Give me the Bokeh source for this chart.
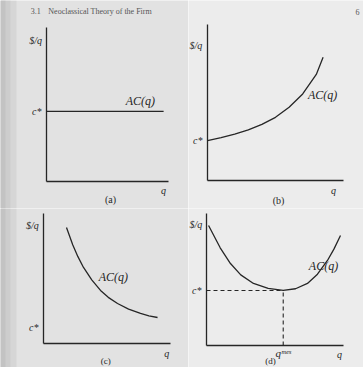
from bokeh.plotting import figure
from bokeh.layouts import column, row
from bokeh.models import Range1d, FixedTicker, Label, BoxAnnotation
from bokeh.embed import file_html
from bokeh.resources import INLINE

# ---------------- data ----------------
section = "3.1"
header = "Neoclassical Theory of the Firm"
page_no = "6"
panel_names = ["(a)", "(b)", "(c)", "(d)"]

# (a) constant average cost
c_star_a = 4.55
q_a = [0.0, 9.6]
ac_a = [4.55, 4.55]

# (b) rising average cost
c_star_b = 2.56
q_b = [0.0, 1.0, 2.0, 3.0, 4.0, 5.0, 6.0, 7.0, 8.0, 8.5]
ac_b = [2.56, 2.75, 2.98, 3.25, 3.6, 4.05, 4.7, 5.55, 6.8, 7.9]

# (c) falling average cost
c_star_c = 1.23
q_c = [1.81, 2.3, 2.7, 3.15, 3.8, 4.49, 5.1, 5.83, 6.7, 7.64, 8.3, 8.98]
ac_c = [8.92, 7.6, 6.7, 5.85, 4.9, 4.08, 3.55, 3.08, 2.65, 2.31, 2.13, 2.0]

# (d) U-shaped average cost
c_star_d = 4.17
q_mes = 5.6
q_d = [0.15, 1.0, 1.75, 2.5, 3.43, 4.5, 5.6, 6.5, 7.37, 8.1, 8.83, 9.3, 9.78]
ac_d = [9.09, 7.4, 6.21, 5.35, 4.7, 4.32, 4.17, 4.3, 4.7, 5.4, 6.44, 7.3, 8.33]

INK = "#262626"
SERIF = "Liberation Serif"


def make_panel(w, h, left, right, top, bottom, bg, c_star, xtick=None, xlabel=None):
    # the axes box (0..10 in both directions) sits at the given insets
    pxx = (w - left - right) / 10.0
    pxy = (h - top - bottom) / 10.0
    p = figure(width=w, height=h, output_backend="svg", toolbar_location=None,
               x_range=Range1d(-left / pxx, 10 + right / pxx),
               y_range=Range1d(-bottom / pxy, 10 + top / pxy),
               min_border=0, min_border_left=0, min_border_right=0,
               min_border_top=0, min_border_bottom=0,
               background_fill_color=bg, border_fill_color=bg,
               outline_line_color=None)
    p.xgrid.visible = False
    p.ygrid.visible = False
    for ax in (p.xaxis[0], p.yaxis[0]):
        ax.fixed_location = 0
        ax.bounds = (0, 10)
        ax.axis_line_color = INK
        ax.axis_line_width = 1.3
        ax.major_tick_in = 0
        ax.major_tick_out = 0
        ax.minor_tick_in = 0
        ax.minor_tick_out = 0
        ax.major_label_text_font = SERIF
        ax.major_label_text_font_style = "italic"
        ax.major_label_text_font_size = "10px"
        ax.major_label_text_color = INK
        ax.major_label_standoff = 5
    p.yaxis[0].ticker = FixedTicker(ticks=[c_star])
    p.yaxis[0].major_label_overrides = {c_star: "c*"}
    p.yaxis[0].major_label_orientation = "horizontal"
    if xtick is None:
        p.xaxis[0].ticker = FixedTicker(ticks=[])
    else:
        p.xaxis[0].ticker = FixedTicker(ticks=[xtick])
        p.xaxis[0].major_label_overrides = {xtick: xlabel}
        p.xaxis[0].major_label_standoff = 1
        p.xaxis[0].major_label_text_font_size = "11px"
    return p


def lab(p, x, y, text, size="10px", style="italic", align="center", color=INK):
    p.add_layout(Label(x=x, y=y, text=text, text_font=SERIF,
                       text_font_style=style, text_font_size=size,
                       text_color=color, text_align=align,
                       text_baseline="middle"))


def shade_left(p, px_per_unit, start):
    # darker scanner shading along the left edge of the page
    for width_px, col in ((16, "#d6d6d6"), (10, "#cdcdcd"), (5, "#c3c3c3")):
        p.add_layout(BoxAnnotation(right=start + width_px / px_per_unit,
                                   fill_color=col, fill_alpha=1.0,
                                   line_color=None, level="underlay"))


# (a)
pa = make_panel(188, 208, 46, 20, 27, 27, "#e2e2e2", c_star_a)
shade_left(pa, 12.2, pa.x_range.start)
pa.line(q_a, ac_a, line_color=INK, line_width=1.3)
lab(pa, -1.3, 11.04, section, size="8px", style="normal", align="left", color="#555555")
lab(pa, 0.15, 11.04, header, size="8px", style="normal", align="left", color="#555555")
lab(pa, -0.9, 9.16, "$/q")
lab(pa, 7.7, 5.2, "AC(q)", size="12px")
lab(pa, 9.6, -0.58, "q")
lab(pa, 5.25, -1.17, panel_names[0], style="normal")

# (b)
pb = make_panel(175, 208, 19, 20, 24, 28, "#ececec", c_star_b)
pb.line(q_b, ac_b, line_color=INK, line_width=1.3)
lab(pb, -1.32, 8.65, "$/q", align="left")
lab(pb, 8.46, 5.45, "AC(q)", size="12px")
lab(pb, 9.26, -0.64, "q")
lab(pb, 5.22, -1.28, panel_names[1], style="normal")
lab(pb, 11.03, 10.77, page_no, size="8px", style="normal", color="#555555")

# (c)
pc = make_panel(188, 159, 43, 18, 5, 24, "#e2e2e2", c_star_c)
shade_left(pc, 12.7, pc.x_range.start)
pc.line(q_c, ac_c, line_color=INK, line_width=1.3)
lab(pc, -0.87, 9.08, "$/q")
lab(pc, 5.5, 5.08, "AC(q)", size="12px")
lab(pc, 9.7, -0.77, "q")
lab(pc, 4.9, -1.31, panel_names[2], size="9px", style="normal")

# (d)
pd = make_panel(175, 159, 18, 20, 5, 22, "#ececec", c_star_d,
                xtick=q_mes, xlabel="q\u1d50\u1d49\u02e2")
pd.line(q_d, ac_d, line_color=INK, line_width=1.3)
pd.line([0, q_mes], [c_star_d, c_star_d], line_color=INK, line_width=1.1, line_dash="4 3")
pd.line([q_mes, q_mes], [0, c_star_d], line_color=INK, line_width=1.1, line_dash="4 3")
lab(pd, -1.24, 9.17, "$/q", align="left")
lab(pd, 8.54, 6.06, "AC(q)", size="12px")
lab(pd, 9.7, -0.68, "q")
lab(pd, 4.67, -1.14, panel_names[3], size="9px", style="normal")

layout = column(row(pa, pb), row(pc, pd))
open("out.html", "w").write(file_html(layout, INLINE))
